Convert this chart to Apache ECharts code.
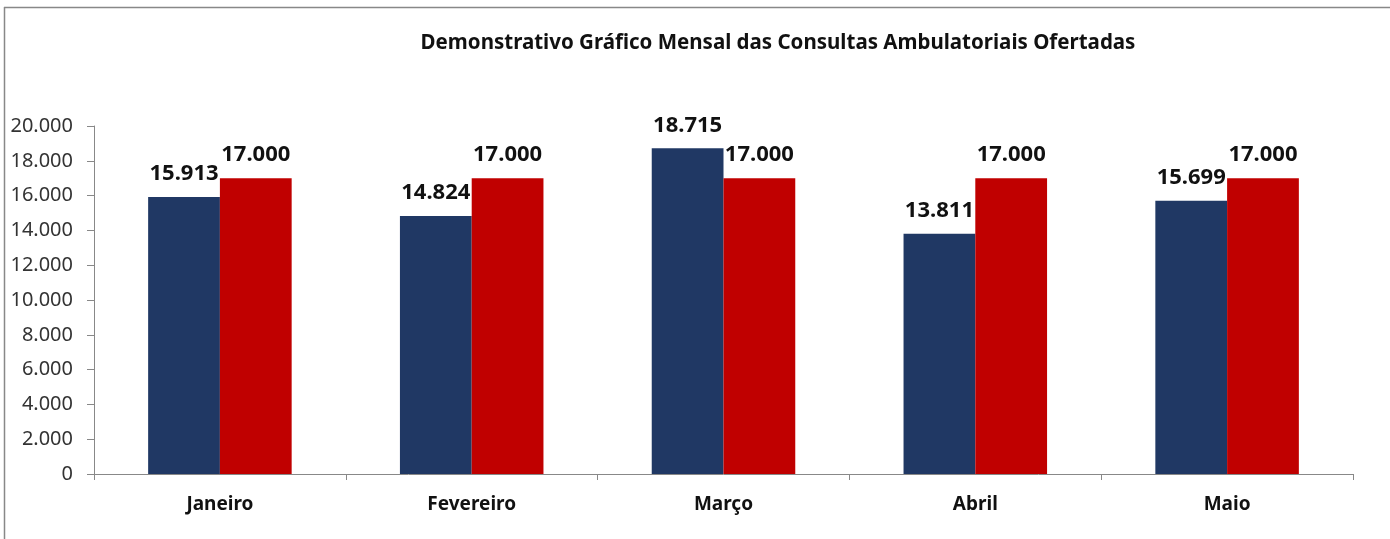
<!DOCTYPE html>
<html>
<head>
<meta charset="utf-8">
<script src="https://cdn.jsdelivr.net/npm/echarts@6/dist/echarts.min.js"></script>
<style>html,body{margin:0;padding:0;background:#fff}#c{width:1390px;height:539px}</style>
</head>
<body>
<div id="c"></div>
<script>
const titleText = 'Demonstrativo Gráfico Mensal das Consultas Ambulatoriais Ofertadas';
const categories = ['Janeiro', 'Fevereiro', 'Março', 'Abril', 'Maio'];
const realizadas = [15913, 14824, 18715, 13811, 15699];
const ofertadas = [17000, 17000, 17000, 17000, 17000];
const yTicks = [0, 2000, 4000, 6000, 8000, 10000, 12000, 14000, 16000, 18000, 20000];

function fmt(v) {
  return String(Math.round(v)).replace(/\B(?=(\d{3})+(?!\d))/g, '.');
}

const chart = echarts.init(document.getElementById('c'));
const labelStyle = {
  show: true, position: 'top', distance: 12,
  fontFamily: 'Noto Sans', fontWeight: 'bold', fontSize: 22, color: '#111',
  formatter: p => fmt(p.value)
};
chart.setOption({
  animation: false,
  grid: { left: 94, right: 37, top: 126, bottom: 65, containLabel: false },
  graphic: [
    { type: 'line', shape: { x1: 4, y1: 7.5, x2: 1390, y2: 7.5 }, style: { stroke: '#888', lineWidth: 1.5 } },
    { type: 'line', shape: { x1: 4.5, y1: 7, x2: 4.5, y2: 539 }, style: { stroke: '#888', lineWidth: 1.5 } },
    { type: 'text', x: 778, y: 43, style: { text: titleText, textAlign: 'center', textVerticalAlign: 'middle',
      fontFamily: 'Noto Sans', fontWeight: 'bold', fontSize: 20.5, fill: '#111' } }
  ],
  xAxis: {
    type: 'category', data: categories,
    axisLine: { lineStyle: { color: '#888', width: 1 } },
    axisTick: { show: true, alignWithLabel: false, length: 6, lineStyle: { color: '#888' } },
    axisLabel: { margin: 21, fontFamily: 'Noto Sans', fontWeight: 'bold', fontSize: 19, color: '#111' }
  },
  yAxis: {
    type: 'value', min: yTicks[0], max: yTicks[yTicks.length - 1], interval: yTicks[1] - yTicks[0],
    axisLine: { show: true, lineStyle: { color: '#888', width: 1 } },
    axisTick: { show: true, length: 7, lineStyle: { color: '#888' } },
    splitLine: { show: false },
    axisLabel: { margin: 21, fontFamily: 'Noto Sans', fontSize: 20, color: '#333', formatter: v => fmt(v) }
  },
  series: [
    { type: 'bar', data: realizadas, barGap: '0%', barCategoryGap: '43%', itemStyle: { color: '#203864' }, label: labelStyle },
    { type: 'bar', data: ofertadas, barGap: '0%', barCategoryGap: '43%', itemStyle: { color: '#C00000' }, label: labelStyle }
  ]
});
</script>
</body>
</html>
